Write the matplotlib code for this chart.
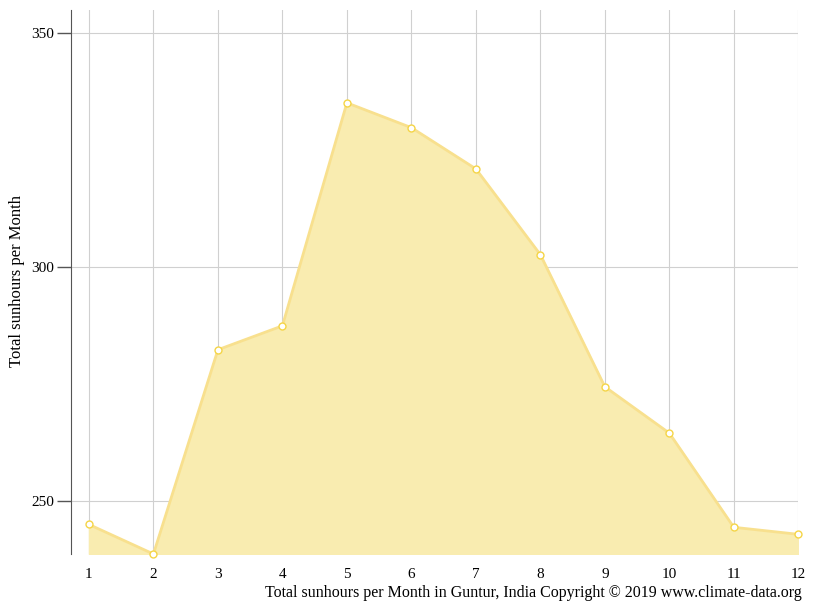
import matplotlib
matplotlib.use('Agg')
import matplotlib.pyplot as plt

# data
months = [1, 2, 3, 4, 5, 6, 7, 8, 9, 10, 11, 12]
sunhours = [245, 238.7, 282.3, 287.4, 335, 329.7, 320.9, 302.6, 274.4, 264.5, 244.4, 242.9]

plt.rcParams['font.family'] = ['Liberation Serif', 'DejaVu Serif']

fig = plt.figure(figsize=(8.15, 6.11), dpi=100)
ax = fig.add_axes([0.087, 0.0933, 0.8925, 0.891])

ax.fill_between(months, sunhours, 238.7, color='#f9ecb0', zorder=2)
ax.plot(months, sunhours, color='#f8e08e', lw=2, zorder=3)
ax.plot(months, sunhours, 'o', ms=5, mfc='white', mec='#f5d547', mew=1, zorder=4, clip_on=False)

ax.set_xlim(0.72, 12.0)
ax.set_ylim(238.7, 354.9)
ax.set_xticks(months)
ax.set_yticks([250, 300, 350])
ax.grid(True, color='#d0d0d0', lw=0.8, zorder=1)
for s in ['top', 'right', 'bottom']:
    ax.spines[s].set_visible(False)
ax.spines['left'].set_color('#555555')
ax.tick_params(axis='x', length=0, pad=10, labelsize=11)
ax.tick_params(axis='y', length=10, width=1, color='#555555', labelsize=11, pad=2)

fig.text(0.021, 0.54, 'Total sunhours per Month', rotation=90, ha='center', va='center', fontsize=12)
fig.text(0.984, 0.017, 'Total sunhours per Month in Guntur, India Copyright © 2019 www.climate-data.org',
         ha='right', va='bottom', fontsize=11.5)

fig.savefig('out.png', dpi=100)
